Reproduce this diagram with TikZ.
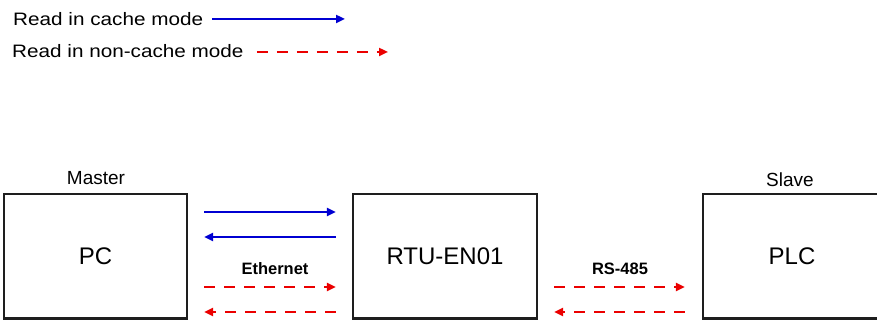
\documentclass[tikz,border=0pt]{standalone}
\usepackage{fontspec}
\setmainfont{Liberation Sans}
\usetikzlibrary{arrows.meta,calc}
\definecolor{cacheblue}{RGB}{0,0,210}
\definecolor{ncred}{RGB}{235,0,0}
\definecolor{boxgray}{RGB}{30,30,30}
\begin{document}
\begin{tikzpicture}[x=1pt,y=-1pt,
  devbox/.style={draw=boxgray,line width=2.2pt,rectangle,inner sep=0pt,font=\fontsize{24}{28}\selectfont},
  rolelabel/.style={inner sep=0pt,font=\fontsize{19}{22}\selectfont},
  legendtext/.style={inner sep=0pt,anchor=west,font=\fontsize{18}{21}\selectfont,xscale=1.15,transform shape},
  linklabel/.style={inner sep=0pt,font=\bfseries\fontsize{16.5}{19}\selectfont},
  cachearrow/.style={draw=cacheblue,line width=2.5pt,-{Triangle[length=9pt,width=8pt]}},
  ncarrow/.style={draw=ncred,line width=2.5pt,dash pattern=on 11pt off 9pt,-{Triangle[length=9pt,width=8pt]}},
]
\useasboundingbox (0,0) rectangle (877,323);
\clip (0,0) rectangle (877,323);
\fill[white] (0,0) rectangle (877,323);

% legend
\node[legendtext] (l1) at (13,19) {Read in cache mode};
\node[legendtext] (l2) at (12,51) {Read in non-cache mode};
\coordinate (l1e) at (345,19);
\coordinate (l2e) at (388,52);
\draw[cachearrow] ([xshift=9pt]l1.east) -- (l1e);
\draw[ncarrow] ($(l2.east)+(13,1)$) -- (l2e);

% devices
\node[devbox,minimum width=183pt,minimum height=124.5pt] (pc) at (95.5,256.25) {PC};
\node[devbox,minimum width=184pt,minimum height=124.5pt] (rtu) at (445,256.25) {RTU-EN01};
\node[devbox,minimum width=178pt,minimum height=124.5pt] (plc) at (792,256.25) {PLC};

\node[rolelabel] (master) at (96,178) {Master};
\node[rolelabel] (slave) at (790,180) {Slave};

% Ethernet links
\coordinate (y1) at (0,212);
\coordinate (y2) at (0,237);
\coordinate (y3) at (0,287);
\coordinate (y4) at (0,312);
\draw[cachearrow,shorten <=16pt,shorten >=16pt] (pc.east |- y1) -- (rtu.west |- y1);
\draw[cachearrow,shorten <=16pt,shorten >=16pt] (rtu.west |- y2) -- (pc.east |- y2);
\node[linklabel] (eth) at (275,269) {Ethernet};
\draw[ncarrow,shorten <=16pt,shorten >=16pt] (pc.east |- y3) -- (rtu.west |- y3);
\draw[ncarrow,shorten <=16pt,shorten >=16pt] (rtu.west |- y4) -- (pc.east |- y4);

% RS-485 links
\node[linklabel] (rs) at (620,269) {RS-485};
\draw[ncarrow,shorten <=16pt,shorten >=17pt] (rtu.east |- y3) -- (plc.west |- y3);
\draw[ncarrow,shorten <=17pt,shorten >=16pt] (plc.west |- y4) -- (rtu.east |- y4);
\end{tikzpicture}
\end{document}
